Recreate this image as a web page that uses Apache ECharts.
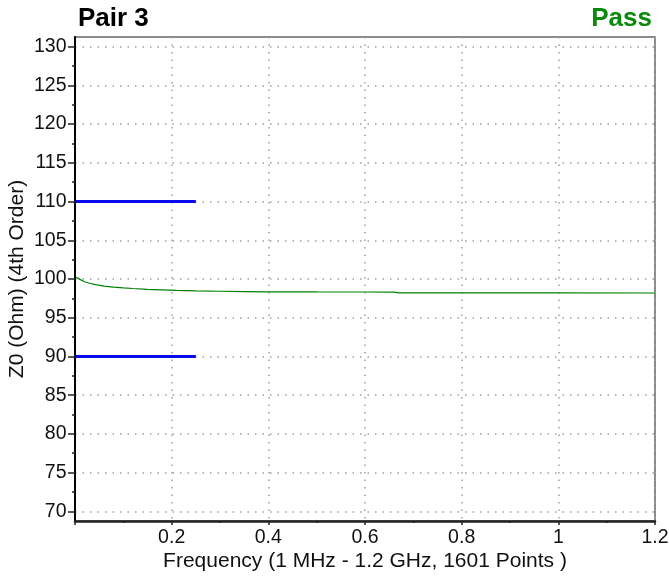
<!DOCTYPE html>
<html>
<head>
<meta charset="utf-8">
<script src="https://cdn.jsdelivr.net/npm/echarts@6/dist/echarts.min.js"></script>
<style>html,body{margin:0;padding:0;background:#fff;}#c{width:669px;height:578px;}</style>
</head>
<body>
<div id="c"></div>
<script>
var freqGHz = [0.001, 0.01, 0.02, 0.03, 0.045, 0.06, 0.08, 0.1, 0.12, 0.15, 0.18, 0.21, 0.25, 0.3, 0.35, 0.4, 0.5, 0.6, 0.66, 0.67, 0.8, 1.0, 1.2];
var z0Ohm   = [100.25, 99.95, 99.65, 99.45, 99.25, 99.08, 98.95, 98.85, 98.77, 98.67, 98.6, 98.52, 98.46, 98.42, 98.38, 98.35, 98.33, 98.32, 98.31, 98.22, 98.21, 98.2, 98.19];
var upperLimitX = [0.001, 0.25];
var upperLimitY = [110, 110];
var lowerLimitX = [0.001, 0.25];
var lowerLimitY = [90, 90];
var yTickLabels = [70, 75, 80, 85, 90, 95, 100, 105, 110, 115, 120, 125, 130];
var yMinorTicks = [72.5, 77.5, 82.5, 87.5, 92.5, 97.5, 102.5, 107.5, 112.5, 117.5, 122.5, 127.5];
var xTickLabels = [0.2, 0.4, 0.6, 0.8, 1, 1.2];

function pairs(xs, ys){ return xs.map(function(x,i){ return [x, ys[i]]; }); }

var FONT = 'Liberation Sans, Arial, Helvetica, sans-serif';
var chart = echarts.init(document.getElementById('c'), null, {renderer:'canvas'});
var grid = {left:75, right:14, top:37, bottom:57, show:true, borderColor:'#666', borderWidth:1.5,
  backgroundColor:'#fff', containLabel:false, outerBoundsMode:'none'};
var dotted = {color:'#a0a0a0', width:1.5, type:[1.5, 6]};
chart.setOption({
  animation:false,
  textStyle:{fontFamily:FONT},
  title:[
    {text:'Pair 3', left:73, top:1, textStyle:{fontFamily:FONT, fontSize:26, fontWeight:'bold', color:'#000'}},
    {text:'Pass', right:12, top:1, textStyle:{fontFamily:FONT, fontSize:26, fontWeight:'bold', color:'#0a8a0a'}}
  ],
  grid:grid,
  xAxis:{
    type:'value', min:0, max:1.2, interval:0.2,
    name:'Frequency (1 MHz - 1.2 GHz, 1601 Points )', nameLocation:'middle', nameGap:30, nameMoveOverlap:false,
    nameTextStyle:{fontFamily:FONT, fontSize:21, color:'#111'},
    axisLine:{show:true, onZero:false, lineStyle:{color:'#222', width:2.5}},
    axisTick:{show:true, inside:false, length:4, lineStyle:{color:'#222', width:1.5}},
    minorTick:{show:true, splitNumber:2, length:2, lineStyle:{color:'#222', width:1.5}},
    axisLabel:{fontFamily:FONT, fontSize:19.5, color:'#111', margin:7, showMinLabel:false,
      formatter:function(v){ return xTickLabels.indexOf(Math.round(v*10)/10) >= 0 ? String(Math.round(v*10)/10) : ''; }},
    splitLine:{show:true, lineStyle:dotted},
    minorSplitLine:{show:false}
  },
  yAxis:[{
    type:'value', min:68.75, max:131.25, position:'left',
    name:'Z0 (Ohm) (4th Order)', nameLocation:'middle', nameGap:47, nameRotate:90, nameMoveOverlap:false,
    nameTextStyle:{fontFamily:FONT, fontSize:21, color:'#111'},
    axisLine:{show:true, onZero:false, lineStyle:{color:'#000', width:2}},
    axisTick:{show:true, length:7, customValues:yTickLabels, lineStyle:{color:'#222', width:1.5}},
    axisLabel:{fontFamily:FONT, fontSize:19.5, color:'#111', margin:8.5, customValues:yTickLabels},
    splitLine:{show:true, lineStyle:dotted}
  },{
    type:'value', min:68.75, max:131.25, position:'left', offset:0,
    axisLine:{show:false},
    axisTick:{show:true, length:3, customValues:yMinorTicks, lineStyle:{color:'#222', width:1.5}},
    axisLabel:{show:false},
    splitLine:{show:false}
  }],
  series:[
    {type:'line', name:'Z0', data:pairs(freqGHz, z0Ohm), showSymbol:false, symbol:'none',
      lineStyle:{color:'#008000', width:1.2}, z:3},
    {type:'line', name:'Upper', data:pairs(upperLimitX, upperLimitY), showSymbol:false, symbol:'none',
      lineStyle:{color:'#0a0aee', width:3}, z:4},
    {type:'line', name:'Lower', data:pairs(lowerLimitX, lowerLimitY), showSymbol:false, symbol:'none',
      lineStyle:{color:'#0a0aee', width:3}, z:4}
  ]
});
</script>
</body>
</html>
